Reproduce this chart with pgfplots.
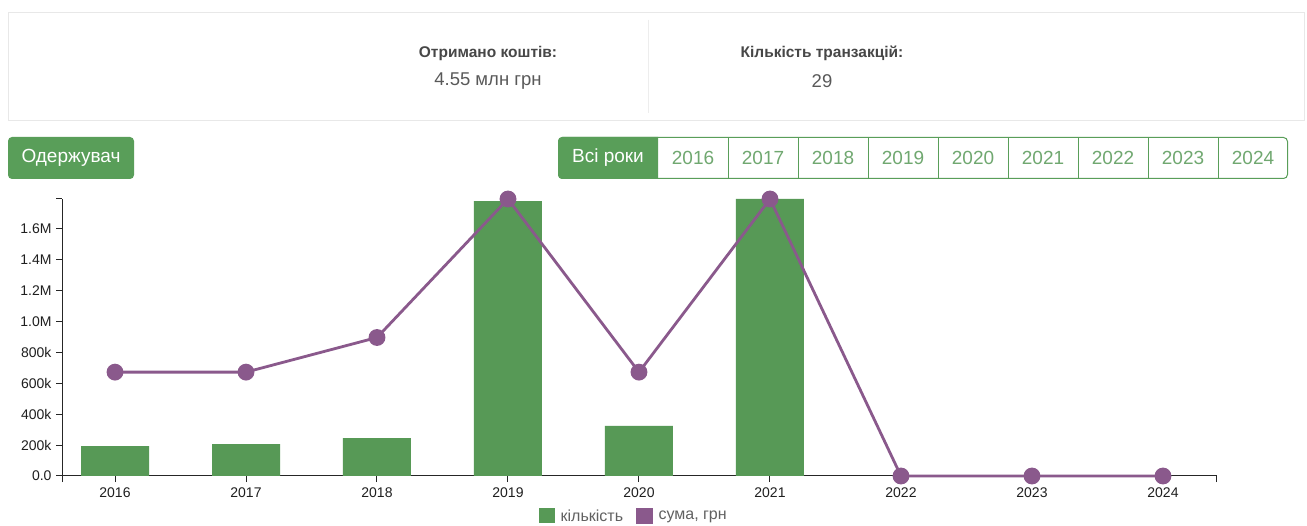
\documentclass[border=0pt]{standalone}
\usepackage{pgfplots}
\pgfplotsset{compat=1.18}
\usepackage{fontspec}
\setmainfont{Liberation Sans}
\definecolor{cgreen}{RGB}{87,153,86}
\definecolor{cpurple}{RGB}{138,89,140}
\definecolor{btngreen}{RGB}{89,158,89}
\definecolor{btntext}{RGB}{112,168,112}
\begin{document}
\begin{tikzpicture}[x=1pt,y=1pt]
\useasboundingbox (0pt,0pt) rectangle (1307pt,525pt);
\fill[white] (0pt,0pt) rectangle (1307pt,525pt);
% header panel
\draw[color=black!9, line width=1pt] (8.5pt,512.5pt) rectangle (1304.5pt,404.5pt);
\draw[color=black!7, line width=1pt] (648pt,505pt) -- (648pt,412pt);
\node[font=\fontsize{15.5}{17}\selectfont\bfseries, text=black!72] at (488pt,472pt) {Отримано коштів:};
\node[font=\fontsize{18.5}{20}\selectfont, text=black!65] at (488pt,444pt) {4.55 млн грн};
\node[font=\fontsize{15.5}{17}\selectfont\bfseries, text=black!72] at (822pt,472pt) {Кількість транзакцій:};
\node[font=\fontsize{18.5}{20}\selectfont, text=black!65] at (822pt,444pt) {29};
% left button
\fill[btngreen, rounded corners=4pt] (8pt,346pt) rectangle (134pt,388pt);
\node[font=\fontsize{19}{21}\selectfont, text=white] at (71pt,367pt) {Одержувач};
% year buttons
\begin{scope}
\clip (550pt,340pt) rectangle (658pt,395pt);
\fill[btngreen, rounded corners=4pt] (558pt,346pt) rectangle (700pt,388pt);
\end{scope}
\draw[btngreen, line width=1pt, rounded corners=4pt] (558.5pt,346.5pt) rectangle (1287.5pt,387.5pt);
\foreach \xx in {728,798,868,938,1008,1078,1148,1218}{
  \draw[btngreen, line width=1pt] (\xx pt,346.5pt) -- (\xx pt,387.5pt);
}
\node[font=\fontsize{19}{21}\selectfont, text=white] at (608pt,367pt) {Всі роки};
\foreach \yy [count=\i from 0] in {2016,2017,2018,2019,2020,2021,2022,2023,2024}{
  \node[font=\fontsize{19}{21}\selectfont, text=btntext] at ({(693+70*\i)*1pt},367pt) {\yy};
}
% chart
\begin{axis}[
  at={(62pt,49pt)}, anchor=south west,
  scale only axis, width=1155pt, height=277pt,
  xmin=-0.4046, xmax=8.412, ymin=0, ymax=1794000,
  axis lines=left,
  axis line style={-, black!85, line width=1pt},
  ybar, bar width=68pt,
  xtick={0,1,2,3,4,5,6,7,8},
  xticklabels={2016,2017,2018,2019,2020,2021,2022,2023,2024},
  ytick={0,200000,400000,600000,800000,1000000,1200000,1400000,1600000},
  yticklabels={0.0,200k,400k,600k,800k,1.0M,1.2M,1.4M,1.6M},
  scaled y ticks=false,
  tick align=outside, major tick length=6pt,
  tick style={black!85, line width=1pt},
  ticklabel style={font=\fontsize{14}{16}\selectfont, text=black!88},
  xticklabel style={yshift=-2pt},
  yticklabel style={xshift=-1pt},
  extra x ticks={-0.4046,8.412}, extra x tick labels={},
  extra y ticks={1794000}, extra y tick labels={},
  legend style={at={(0.495,-0.1444)}, anchor=center, draw=none, fill=none,
    legend columns=2, font=\fontsize{16}{18}\selectfont, text=black!62,
    /tikz/every even column/.append style={column sep=11pt}},
]
\addplot[fill=cgreen, draw=none,
  legend image code/.code={\fill[cgreen] (0pt,-7.5pt) rectangle (16pt,8pt); \path (20pt,0pt);}]
  coordinates {(0,194000) (1,207000) (2,246000) (3,1781000) (4,324000) (5,1794000)};
\addlegendentry{кількість}
\addlegendimage{legend image code/.code={\fill[cpurple] (0pt,-7.5pt) rectangle (16pt,8pt); \path (20pt,0pt);}}
\addlegendentry{сума, грн}
\end{axis}
\begin{axis}[
  at={(62pt,49pt)}, anchor=south west,
  scale only axis, width=1155pt, height=277pt,
  xmin=-0.4046, xmax=8.412, ymin=0, ymax=8,
  axis lines=none, clip=false,
]
\addplot[cpurple, line width=2.8pt, mark=*, mark size=7pt,
  mark options={fill=cpurple, draw=none}]
  coordinates {(0,3) (1,3) (2,4) (3,8) (4,3) (5,8) (6,0) (7,0) (8,0)};
\end{axis}
\end{tikzpicture}
\end{document}
